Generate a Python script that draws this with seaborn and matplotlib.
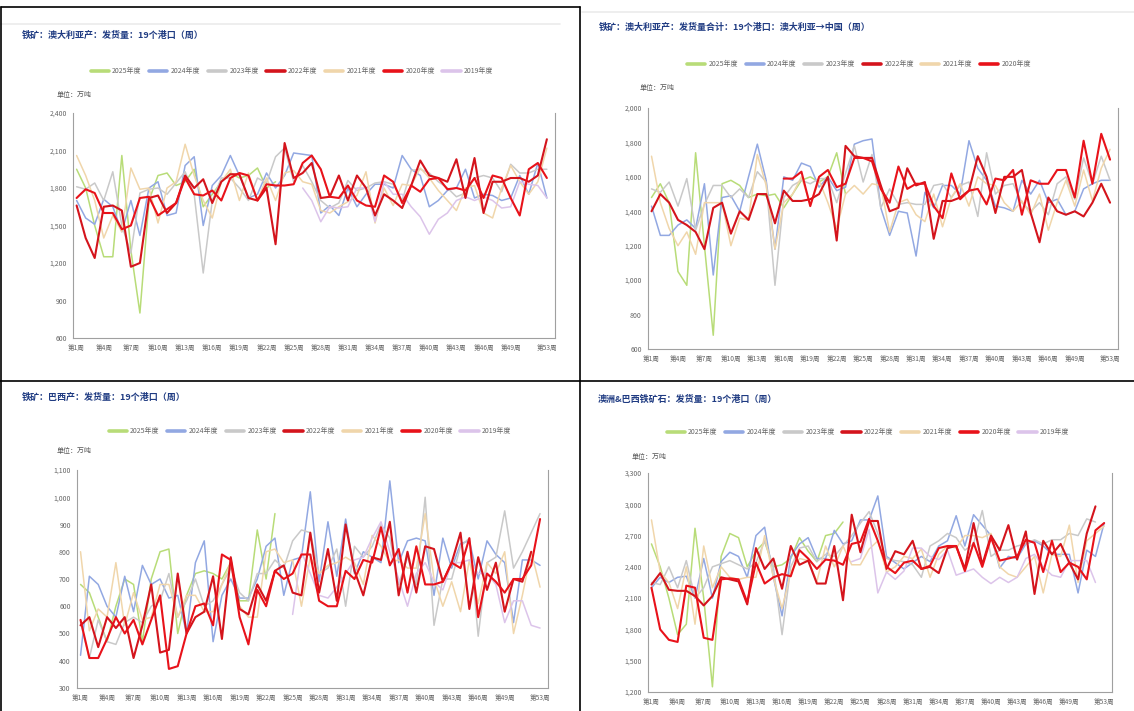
import numpy as np
import pandas as pd
import matplotlib
matplotlib.use('Agg')
import matplotlib.pyplot as plt
import seaborn as sns
from matplotlib.lines import Line2D
from matplotlib.ticker import FuncFormatter

# ---- data (万吨, weekly) ----
weeks = list(range(1, 54))
N = None

# Panel 1: 铁矿：澳大利亚产：发货量：19个港口
au_2025 = [1950, 1800, 1500, 1250, 1250, 2060, 1300, 800, 1700, 1900, 1920, 1820, 1850, 1950, 1650, 1750, 1850, 1920, 1880, 1900, 1960, 1800, 1850] + [N] * 30
au_2024 = [1700, 1560, 1510, 1710, 1650, 1450, 1700, 1420, 1800, 1850, 1580, 1600, 1980, 2050, 1500, 1820, 1900, 2060, 1900, 1720,
           1750, 1920, 1800, 1900, 2080, 2070, 2060, 1600, 1660, 1580, 1800, 1650, 1750, 1830, 1830, 1800, 2060, 1950, 1900, 1650,
           1700, 1780, 1800, 1950, 1720, 1750, 1740, 1700, 1720, 1900, 1750, 2000, 1720]
au_2023 = [1810, 1790, 1840, 1700, 1930, 1500, 1280, 1760, 1790, 1800, 1750, 1840, 1930, 1750, 1120, 1700, 1880, 1880, 1800, 1700,
           1880, 1840, 2050, 2120, 1850, 1980, 1850, 1700, 1640, 1680, 1860, 1780, 1800, 1840, 1850, 1830, 1700, 1940, 1950, 1920,
           1850, 1800, 1730, 1760, 1880, 1900, 1880, 1770, 1990, 1920, 1920, 1950, 1950]
au_2022 = [1660, 1400, 1240, 1650, 1660, 1620, 1170, 1200, 1720, 1740, 1600, 1680, 1900, 1800, 1870, 1680, 1850, 1910, 1910, 1720,
           1700, 1800, 1350, 2160, 1880, 1920, 2000, 1720, 1730, 1900, 1700, 1900, 1800, 1580, 1750, 1700, 1640, 1820, 2020, 1900,
           1880, 1850, 2030, 1720, 2040, 1600, 1850, 1850, 1880, 1880, 1850, 1900, 2190]
au_2021 = [2060, 1900, 1700, 1400, 1580, 1450, 1960, 1790, 1800, 1520, 1800, 1850, 2150, 1900, 1700, 1560, 1850, 1950, 1700, 1920,
           1700, 1880, 1700, 1920, 1940, 1850, 1830, 1620, 1600, 1650, 1690, 1740, 1930, 1520, 1800, 1660, 1830, 1820, 1960, 1880,
           1780, 1700, 1620, 1800, 1820, 1600, 1560, 1800, 1980, 1850, 1750, 1850, 2120]
au_2020 = [1720, 1790, 1760, 1600, 1600, 1470, 1500, 1720, 1730, 1580, 1630, 1680, 1880, 1750, 1740, 1780, 1700, 1880, 1920, 1900,
           1700, 1830, 1820, 1820, 1830, 2000, 2060, 1950, 1730, 1720, 1820, 1700, 1660, 1650, 1900, 1850, 1680, 1820, 1770, 1870,
           1880, 1790, 1800, 1780, 1880, 1720, 1900, 1880, 1720, 1580, 1950, 2000, 1880]
au_2019 = [N] * 25 + [1800, 1700, 1530, 1650, 1640, 1650, 1800, 1800, 1530, 1850, 1750, 1750, 1650, 1570, 1430, 1550, 1600, 1700,
                      1730, 1700, 1730, 1700, 1640, 1650, 1850, 1830, 1820, 1720]

# Panel 2: 澳大利亚→中国
cn_2025 = [1480, 1560, 1450, 1050, 970, 1740, 1200, 680, 1560, 1580, 1550, 1480, 1500, 1490, 1500, 1420, 1500, 1580, 1600, 1570, 1600, 1740, 1500] + [N] * 30
cn_2024 = [1430, 1260, 1260, 1320, 1350, 1300, 1560, 1030, 1480, 1490, 1400, 1600, 1790, 1580, 1180, 1600, 1580, 1680, 1660, 1540,
           1600, 1520, 1540, 1790, 1810, 1820, 1420, 1260, 1400, 1390, 1140, 1510, 1420, 1550, 1550, 1500, 1810, 1650, 1580, 1430,
           1420, 1400, 1580, 1500, 1580, 1450, 1470, 1380, 1400, 1530, 1560, 1580, 1580]
cn_2023 = [1530, 1510, 1570, 1430, 1590, 1290, 1440, 1550, 1550, 1480, 1530, 1480, 1630, 1570, 970, 1480, 1550, 1580, 1560, 1590,
           1590, 1450, 1620, 1780, 1570, 1730, 1420, 1530, 1440, 1450, 1440, 1440, 1550, 1560, 1480, 1550, 1570, 1370, 1740, 1500,
           1550, 1560, 1450, 1400, 1450, 1380, 1560, 1600, 1470, 1710, 1560, 1720, 1580]
cn_2022 = [1400, 1500, 1450, 1350, 1320, 1280, 1180, 1420, 1450, 1270, 1400, 1350, 1500, 1500, 1330, 1520, 1460, 1460, 1470, 1500,
           1600, 1230, 1780, 1720, 1710, 1710, 1550, 1400, 1420, 1650, 1550, 1570, 1240, 1460, 1460, 1480, 1520, 1720, 1600, 1390,
           1600, 1600, 1640, 1390, 1220, 1480, 1400, 1380, 1400, 1370, 1450, 1560, 1450]
cn_2021 = [1720, 1450, 1300, 1200, 1280, 1150, 1450, 1450, 1450, 1200, 1360, 1350, 1730, 1550, 1180, 1450, 1500, 1600, 1440, 1580,
           1450, 1300, 1500, 1550, 1500, 1560, 1550, 1280, 1450, 1470, 1380, 1340, 1500, 1310, 1480, 1560, 1430, 1600, 1560, 1550,
           1450, 1400, 1460, 1380, 1500, 1290, 1450, 1580, 1430, 1640, 1460, 1650, 1760]
cn_2020 = [N] * 15 + [1590, 1590, 1630, 1430, 1600, 1640, 1540, 1560, 1710, 1710, 1690, 1530, 1450, 1660, 1530, 1560, 1560, 1430,
                      1360, 1620, 1470, 1520, 1530, 1440, 1590, 1580, 1640, 1380, 1580, 1560, 1560, 1640, 1640, 1480, 1810, 1560,
                      1850, 1700]

# Panel 3: 巴西产
br_2025 = [680, 650, 560, 470, 600, 700, 680, 470, 700, 800, 810, 500, 640, 720, 730, 720, 700, 760, 620, 620, 880, 700, 940] + [N] * 30
br_2024 = [420, 710, 680, 600, 560, 710, 580, 750, 680, 700, 630, 640, 500, 760, 840, 470, 640, 700, 630, 630,
           700, 820, 850, 640, 770, 780, 1020, 690, 910, 710, 920, 720, 800, 780, 760, 1060, 760, 840, 850, 840,
           640, 850, 740, 830, 840, 700, 840, 790, 760, 540, 770, 770, 750]
br_2023 = [540, 410, 550, 470, 460, 540, 560, 540, 600, 620, 720, 560, 620, 700, 600, 620, 680, 740, 650, 620,
           720, 720, 770, 740, 840, 880, 870, 720, 740, 810, 600, 820, 780, 820, 900, 850, 680, 780, 680, 1000,
           530, 700, 700, 820, 850, 490, 760, 780, 950, 740, 800, 870, 940]
br_2022 = [530, 560, 450, 560, 520, 560, 410, 530, 680, 430, 440, 720, 500, 560, 580, 710, 480, 780, 590, 570,
           680, 620, 730, 750, 650, 640, 870, 650, 810, 620, 900, 730, 640, 780, 770, 910, 640, 800, 650, 820,
           810, 690, 760, 870, 590, 780, 660, 760, 580, 700, 690, 800, N]
br_2021 = [800, 510, 590, 560, 760, 530, 650, 550, 560, 680, 680, 560, 640, 640, 580, 580, 680, 760, 600, 560,
           560, 800, 810, 760, 770, 600, 780, 720, 750, 760, 780, 760, 680, 860, 820, 760, 770, 740, 740, 940,
           700, 600, 690, 580, 770, 610, 760, 720, 800, 500, 640, 800, 670]
br_2020 = [550, 410, 410, 480, 560, 500, 550, 460, 550, 640, 370, 380, 500, 600, 610, 530, 790, 770, 560, 460,
           660, 600, 730, 700, 720, 790, 790, 620, 600, 600, 730, 700, 770, 760, 890, 750, 810, 650, 820, 680,
           680, 690, 760, 740, 850, 560, 720, 690, 650, 700, 700, 750, 920]
br_2019 = [N] * 24 + [570, 800, 720, 640, 630, 670, 720, 770, 780, 850, 910, 800, 700, 600, 720, 760, 690, 660, 760, 760,
                      770, 720, 720, 680, 540, 620, 620, 530, 520]

# Panel 4: 澳洲&巴西铁矿石
tot_2025 = [2620, 2400, 2100, 1750, 1850, 2770, 2100, 1250, 2500, 2720, 2680, 2400, 2550, 2640, 2400, 2420, 2480, 2680, 2550, 2450, 2700, 2720, 2830] + [N] * 30
tot_2024 = [2200, 2300, 2250, 2300, 2310, 2100, 2480, 2100, 2450, 2540, 2500, 2300, 2700, 2780, 2300, 1930, 2500, 2620, 2680, 2480,
            2480, 2750, 2620, 2650, 2850, 2850, 3080, 2500, 2440, 2380, 2440, 2500, 2450, 2600, 2650, 2890, 2600, 2900, 2800, 2700,
            2390, 2500, 2480, 2620, 2650, 2600, 2520, 2520, 2520, 2150, 2560, 2500, 2820]
tot_2023 = [2250, 2230, 2400, 2200, 2460, 2100, 2200, 2400, 2430, 2460, 2420, 2380, 2440, 2650, 2400, 1750, 2400, 2580, 2600, 2450,
            2520, 2500, 2600, 2700, 2820, 2930, 2720, 2480, 2460, 2450, 2420, 2300, 2600, 2650, 2720, 2680, 2560, 2620, 2940, 2500,
            2560, 2560, 2600, 2620, 2660, 2620, 2660, 2660, 2720, 2700, 2860, 2830, N]
tot_2022 = [2230, 2340, 2180, 2170, 2170, 2120, 2030, 2120, 2300, 2280, 2260, 2040, 2580, 2380, 2480, 2190, 2600, 2420, 2460, 2240,
            2240, 2600, 2080, 2900, 2540, 2840, 2840, 2380, 2550, 2520, 2650, 2380, 2400, 2340, 2580, 2600, 2380, 2820, 2420, 2700,
            2560, 2800, 2470, 2740, 2140, 2650, 2520, 2620, 2440, 2280, 2720, 2980, N]
tot_2021 = [2850, 2350, 2250, 2000, 2400, 1850, 2600, 2200, 2400, 2300, 2280, 2300, 2300, 2700, 2300, 2000, 2350, 2480, 2460, 2260,
            2600, 2400, 2600, 2420, 2420, 2570, 2650, 2350, 2400, 2500, 2480, 2570, 2300, 2520, 2600, 2580, 2700, 2700, 2680, 2720,
            2400, 2330, 2300, 2400, 2500, 2150, 2520, 2500, 2800, 2250, 2650, 2720, 2790]
tot_2020 = [2200, 1800, 1700, 1680, 2220, 2200, 1720, 1700, 2280, 2290, 2280, 2060, 2440, 2240, 2300, 2330, 2310, 2560, 2480, 2380,
            2470, 2460, 2420, 2620, 2640, 2860, 2650, 2400, 2340, 2440, 2460, 2380, 2410, 2580, 2600, 2600, 2360, 2630, 2400, 2680,
            2460, 2480, 2500, 2660, 2630, 2350, 2650, 2350, 2440, 2400, 2280, 2750, 2820]
tot_2019 = [N] * 23 + [2450, 2480, 2760, 2150, 2350, 2280, 2360, 2580, 2580, 2500, 2470, 2560, 2320, 2350, 2380, 2300, 2240, 2300,
                       2250, 2300, 2480, 2520, 2400, 2320, 2300, 2460, 2460, 2460, 2250, N]

years = ['2025年度', '2024年度', '2023年度', '2022年度', '2021年度', '2020年度', '2019年度']
colors = {'2025年度': '#b8dc78', '2024年度': '#92a8e2', '2023年度': '#c9c9c9', '2022年度': '#d4141c',
          '2021年度': '#f0d6ab', '2020年度': '#e8121a', '2019年度': '#dcc4ea'}

panels = [
    dict(title='铁矿：澳大利亚产：发货量：19个港口（周）',
         series=dict(zip(years, [au_2025, au_2024, au_2023, au_2022, au_2021, au_2020, au_2019])),
         ylim=(600, 2400), ystep=300, rect=(73, 113, 555, 338),
         title_xy=(22, 35), legend_xy=(292, 71), unit_xy=(57, 95)),
    dict(title='铁矿：澳大利亚产：发货量合计：19个港口：澳大利亚→中国（周）',
         series=dict(zip(years[:6], [cn_2025, cn_2024, cn_2023, cn_2022, cn_2021, cn_2020])),
         ylim=(600, 2000), ystep=200, rect=(648, 108, 1118, 349),
         title_xy=(599, 27), legend_xy=(859, 64), unit_xy=(640, 88)),
    dict(title='铁矿：巴西产：发货量：19个港口（周）',
         series=dict(zip(years, [br_2025, br_2024, br_2023, br_2022, br_2021, br_2020, br_2019])),
         ylim=(300, 1100), ystep=100, rect=(77, 470, 548, 688),
         title_xy=(22, 397), legend_xy=(310, 431), unit_xy=(57, 451)),
    dict(title='澳洲&巴西铁矿石：发货量：19个港口（周）',
         series=dict(zip(years, [tot_2025, tot_2024, tot_2023, tot_2022, tot_2021, tot_2020, tot_2019])),
         ylim=(1200, 3300), ystep=300, rect=(648, 473, 1112, 692),
         title_xy=(598, 399), legend_xy=(868, 432), unit_xy=(632, 457)),
]

sns.set_style('white')
plt.rcParams['font.family'] = ['Noto Sans CJK SC', 'DejaVu Sans']

W, H = 1134, 711
fig = plt.figure(figsize=(W / 100, H / 100), dpi=100)

xticks = list(range(1, 50, 3)) + [53]
xlabels = ['第%d周' % w for w in xticks]

for p in panels:
    x0, y0, x1, y1 = p['rect']
    ax = fig.add_axes([x0 / W, 1 - y1 / H, (x1 - x0) / W, (y1 - y0) / H])
    rows = []
    for yr, vals in p['series'].items():
        for w, v in zip(weeks, vals):
            rows.append((yr, w, np.nan if v is None else v))
    df = pd.DataFrame(rows, columns=['year', 'week', 'value'])

    # pale years first, reds on top
    order = [y for y in p['series'] if y not in ('2022年度', '2020年度')] + \
            [y for y in ('2022年度', '2020年度') if y in p['series']]
    for yr in order:
        red = yr in ('2022年度', '2020年度')
        sns.lineplot(data=df[df.year == yr], x='week', y='value', ax=ax,
                     color=colors[yr], lw=1.5 if red else 1.1, legend=False,
                     zorder=3 if red else 2)

    ax.set_xlim(0.6, 53.9)
    ax.set_ylim(*p['ylim'])
    ax.set_yticks(np.arange(p['ylim'][0], p['ylim'][1] + 1, p['ystep']))
    ax.yaxis.set_major_formatter(FuncFormatter(lambda v, _: f'{int(v):,}'))
    ax.set_xticks(xticks)
    ax.set_xticklabels(xlabels)
    ax.set_xlabel('')
    ax.set_ylabel('')
    ax.tick_params(axis='both', labelsize=5, colors='#666666', length=3, width=0.6,
                   direction='out', pad=1.5)
    ax.tick_params(axis='x', labelsize=4.8)
    for s in ('left', 'bottom', 'right'):
        ax.spines[s].set_color('#a0a0a0')
        ax.spines[s].set_linewidth(0.8)
    ax.spines['top'].set_visible(False)

    tx, ty = p['title_xy']
    fig.text(tx / W, 1 - ty / H, p['title'], fontsize=6.5, fontweight='bold',
             color='#1f3b82', va='center', ha='left')
    ux, uy = p['unit_xy']
    fig.text(ux / W, 1 - uy / H, '单位：万吨', fontsize=5, color='#555555',
             va='center', ha='left')

    handles = [Line2D([], [], color=colors[y], lw=2.6) for y in p['series']]
    lx, ly = p['legend_xy']
    fig.legend(handles, list(p['series']), loc='center',
               bbox_to_anchor=(lx / W, 1 - ly / H), ncol=len(handles),
               frameon=False, fontsize=5, handlelength=2.6, handletextpad=0.5,
               columnspacing=1.1, labelcolor='#666666')

# panel frames
def fline(xa, ya, xb, yb, **kw):
    fig.add_artist(Line2D([xa / W, xb / W], [1 - ya / H, 1 - yb / H],
                          transform=fig.transFigure, color='black', lw=1.2, **kw))

fline(580, 7, 580, 711)
fline(0, 381, 1134, 381)
fline(1, 7, 580, 7)
fline(1, 7, 1, 711)
fline(0, 24, 560, 24, alpha=0.08)
fline(582, 12, 1134, 12, alpha=0.08)

fig.savefig('out.png', dpi=100)
